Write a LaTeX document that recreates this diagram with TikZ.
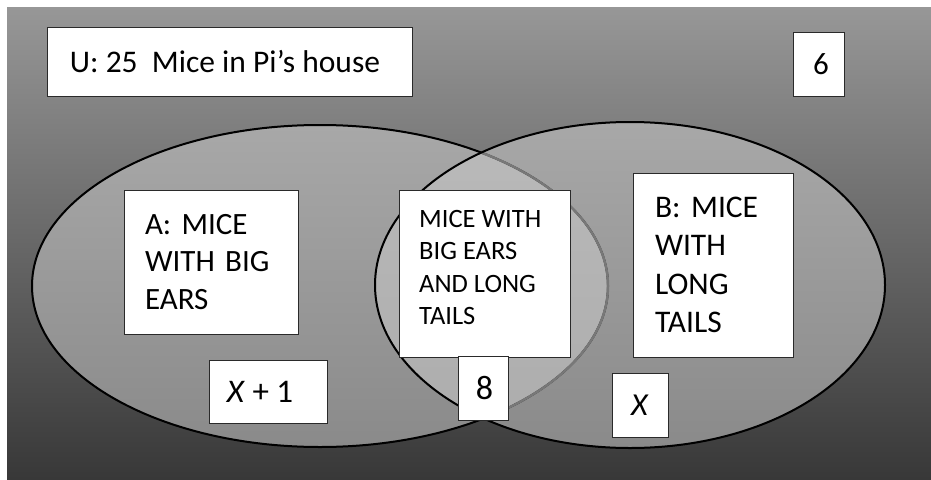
\documentclass[tikz,border=0pt]{standalone}
\usepackage{fontspec}
\setmainfont{Carlito}
\frenchspacing
\definecolor{bgtop}{HTML}{979797}
\definecolor{bgmid}{HTML}{606060}
\definecolor{bgbot}{HTML}{383838}
\definecolor{elltop}{HTML}{A8A8A8}
\definecolor{ellbot}{HTML}{8A8A8A}
\definecolor{intop}{HTML}{BABABA}
\definecolor{inbot}{HTML}{ACACAC}
\definecolor{arcgray}{HTML}{787878}
\definecolor{boxline}{HTML}{2A2A2A}
\tikzset{
  labelbox/.style={draw=boxline, line width=1pt, fill=white, inner sep=0pt, text=black},
  setline/.style={line width=2pt, draw=black},
}
\begin{document}
\begin{tikzpicture}[x=1pt,y=-1pt]
\useasboundingbox (0,0) rectangle (931,479);
\fill[white] (0,0) rectangle (931,479);
\shade[top color=bgtop, middle color=bgmid, bottom color=bgbot] (7,7) rectangle (931,479);
% sets
\shade[top color=elltop, bottom color=ellbot] (320,286) ellipse [x radius=288pt, y radius=161pt];
\shade[top color=elltop, bottom color=ellbot] (630,285) ellipse [x radius=255pt, y radius=163pt];
\begin{scope}
  \clip (320,286) ellipse [x radius=288pt, y radius=161pt];
  \shade[top color=intop, bottom color=inbot] (630,285) ellipse [x radius=255pt, y radius=163pt];
\end{scope}
\draw[setline] (320,286) ellipse [x radius=288pt, y radius=161pt];
\begin{scope}
  \clip (630,285) ellipse [x radius=255pt, y radius=163pt];
  \draw[line width=2.4pt, draw=arcgray] (320,286) ellipse [x radius=288pt, y radius=161pt];
\end{scope}
\draw[setline] (630,285) ellipse [x radius=255pt, y radius=163pt];
% labels
\node[labelbox, minimum width=365pt, minimum height=69pt, font=\fontsize{31.5}{34}\selectfont] (u) at (229.5,61.5) {U: 25\ \ Mice in Pi’s house\kern9pt};
\node[labelbox, minimum width=51pt, minimum height=64pt, font=\fontsize{31}{33}\selectfont] (six) at (818.5,64) {\kern5pt6};
\node[labelbox, minimum width=174pt, minimum height=144pt, align=left, text width=132pt, font=\fontsize{31}{37.5}\selectfont] (a) at (211,262) {A: MICE\\WITH BIG\\EARS};
\node[labelbox, minimum width=160pt, minimum height=184pt, align=left, text width=116pt, font=\fontsize{31.5}{38.3}\selectfont] (b) at (713,265) {B: MICE\\WITH\\LONG\\TAILS};
\node[labelbox, minimum width=171pt, minimum height=167pt] (mid) at (484.5,273.5) {};
\node[anchor=north west, inner sep=0pt, align=left, font=\fontsize{26.5}{32.3}\selectfont] (midtext) at (419,210) {MICE WITH\\BIG EARS\\AND LONG\\TAILS};
\node[labelbox, minimum width=118pt, minimum height=63pt, font=\fontsize{33}{35}\selectfont] (xp1) at (268,391.5) {\textit{X} + 1\kern16pt};
\node[labelbox, minimum width=50pt, minimum height=64pt, font=\fontsize{34}{36}\selectfont] (eight) at (483,388) {\kern3pt8};
\node[labelbox, minimum width=56pt, minimum height=64pt, font=\fontsize{32}{34}\selectfont] (x) at (640,405) {\textit{X}};
\end{tikzpicture}
\end{document}
